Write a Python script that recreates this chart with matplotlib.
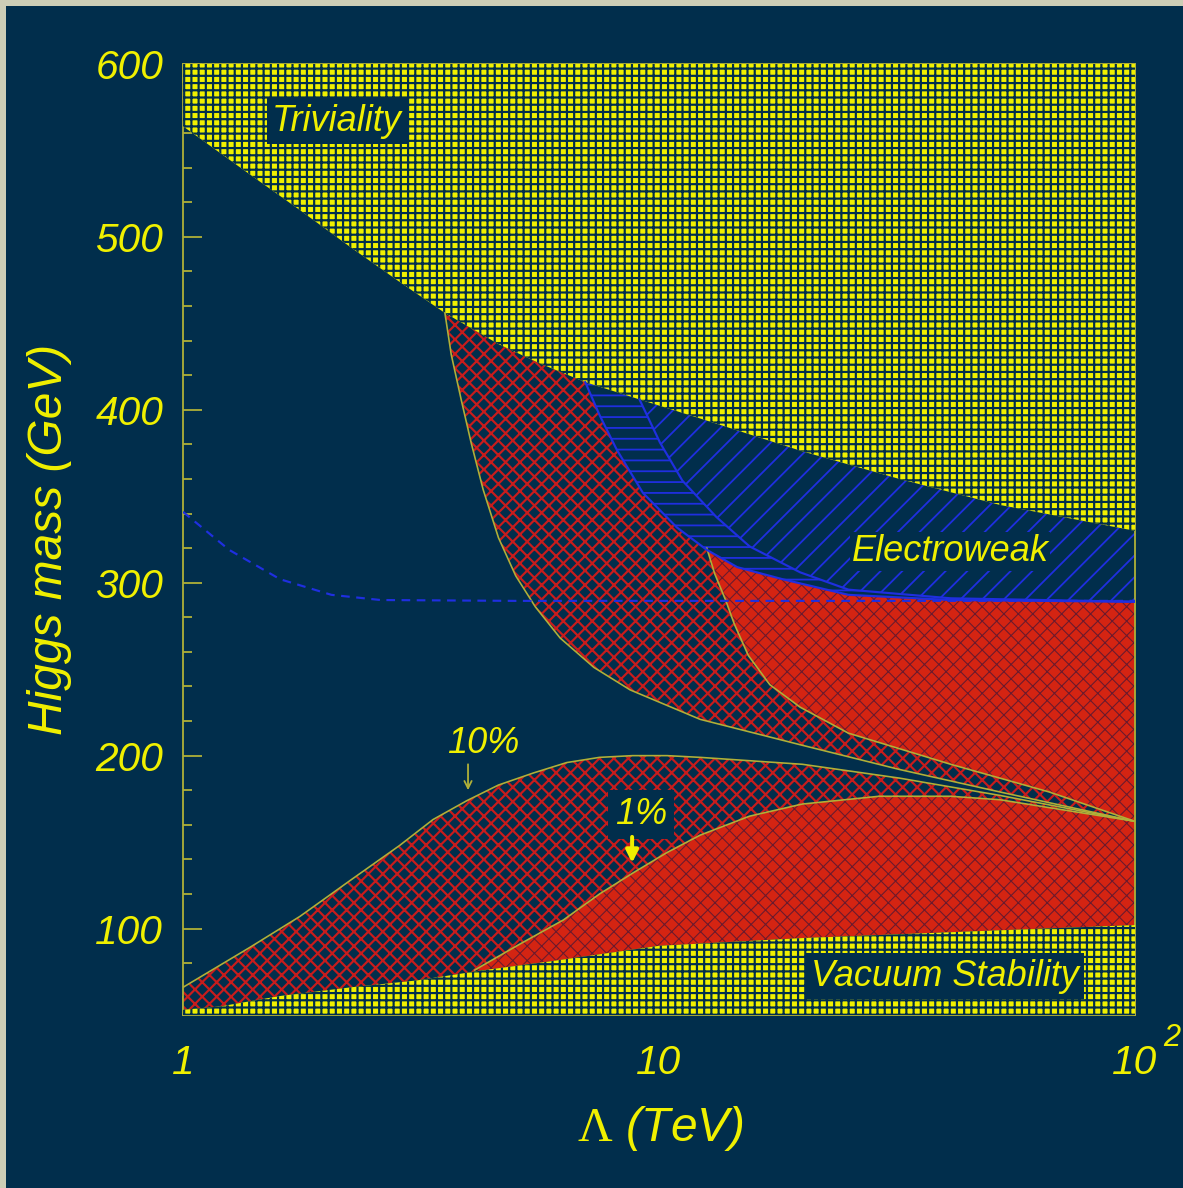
import matplotlib
matplotlib.use('Agg')
import matplotlib.pyplot as plt
from matplotlib.patches import Rectangle
from matplotlib.ticker import MultipleLocator, NullFormatter

# cut-off scale (TeV) and Higgs mass (GeV) along each bound
lam_triv = [1, 1.4, 1.75, 2.25, 2.85, 3.55, 4.6, 5.6, 7.0, 9.1, 12.2, 20, 32, 52, 100]
m_triv = [564, 535, 516, 494, 474, 456, 438, 427, 416, 406, 395, 376, 360, 345, 330]

lam_vac = [1, 1.2, 1.6, 2.25, 3.1, 4.3, 5.9, 10, 20, 52, 100]
m_vac = [53, 55, 61, 66, 70, 76, 81, 90, 94.5, 99, 102]

# fine-tuning contours, lower branch
lam_10 = [1, 1.38, 1.76, 2.25, 2.85, 3.35, 3.95, 4.6, 5.45, 6.4, 7.5, 8.8, 10.4, 12.2, 20, 32, 52, 100]
m_10 = [66, 89, 107, 128, 148, 163, 174, 183, 190, 196, 199, 200, 200, 199, 195, 187, 177, 162]

lam_1 = [4.1, 5.1, 6.3, 7.5, 8.8, 10.4, 12.2, 15.5, 20, 29, 41, 52, 100]
m_1 = [76, 91, 105, 120, 132, 144, 154, 165, 172, 176.5, 176.5, 174.5, 162]

# fine-tuning contours, upper branch
lam_u10 = [3.55, 3.66, 3.84, 4.03, 4.27, 4.6, 5.0, 5.5, 6.2, 7.3, 8.7, 12.2, 20, 32, 52, 100]
m_u10 = [456, 432, 406, 381, 354, 326, 304, 286, 268, 251, 238, 221, 206, 192, 179, 162]

lam_u1 = [12.6, 13.1, 13.8, 14.4, 15.4, 17.1, 19.8, 25, 41, 66, 100]
m_u1 = [320, 305, 290, 276, 258, 241, 228, 213, 195, 179, 162]

# electroweak precision bounds
lam_ewo = [7.0, 7.5, 8.15, 9.25, 10.9, 12.6, 14.6, 18.2, 25, 41, 100]
m_ewo = [416, 397, 377, 352, 332, 319, 309, 302, 293, 290, 289]

lam_ewi = [9.1, 10.05, 11.2, 13.2, 15.5, 19.8, 25, 41, 100]
m_ewi = [406, 381, 359, 338, 321, 306, 296, 291, 289]

lam_dash = [1, 1.25, 1.6, 2.05, 2.6, 5, 100]
m_dash = [341, 319, 302, 293, 290, 289.5, 289.5]

yticks = [100, 200, 300, 400, 500, 600]
xticks = [1, 10, 100]
xticklabels = ['1', '10', '10']

NAVY = '#012e4c'
YELLOW = '#f0f000'
OLIVE = '#b0b038'
RED_LINE = '#c81c1c'
RED_FACE = '#d42412'
RED_DOTS = '#6a1a2e'
BLUE = '#1f2fe0'

plt.rcParams['font.family'] = 'Liberation Sans'
plt.rcParams['font.style'] = 'italic'
plt.rcParams['mathtext.fontset'] = 'custom'
plt.rcParams['mathtext.rm'] = 'Liberation Serif:style=normal'

fig = plt.figure(figsize=(1183 / 130, 1188 / 130), dpi=130, facecolor='#cdcdb6')
fig.patches.append(Rectangle((6 / 1183, 0), 1, 1 - 6 / 1188, transform=fig.transFigure,
                             fc=NAVY, ec='none', zorder=-10))
ax = fig.add_axes([183 / 1183, 1 - 1015 / 1188, 952 / 1183, 951 / 1188])
ax.set_facecolor(NAVY)
ax.set_xscale('log')
ax.set_xlim(1, 100)
ax.set_ylim(50, 600)
ax.set_axisbelow(True)


def region(xs, ys, fc, hatch, hc, hlw, z):
    plt.rcParams['hatch.linewidth'] = hlw
    p = ax.fill(xs, ys, facecolor=fc, edgecolor=hc, hatch=hatch, linewidth=0, zorder=z)[0]
    return p


def part(lams, ms, lo, hi):
    keep = [(l, m) for l, m in zip(lams, ms) if lo < l < hi]
    return [k[0] for k in keep], [k[1] for k in keep]


# lower 10% band: vacuum bound up to the 10% contour
region(lam_10 + lam_vac[::-1], m_10 + m_vac[::-1], NAVY, 'xxx', RED_LINE, 1.2, 1)

# lower 1% band
vx, vy = part(lam_vac, m_vac, lam_1[0], 1000)
region(lam_1 + vx[::-1], m_1 + vy[::-1], RED_FACE, 'xxx', RED_DOTS, 0.6, 2)

# upper 10% band: below triviality / electroweak edge
tx, ty = part(lam_triv, m_triv, lam_u10[0], lam_ewo[0])
region(lam_u10 + lam_ewo[::-1] + tx[::-1], m_u10 + m_ewo[::-1] + ty[::-1],
       NAVY, 'xxx', RED_LINE, 1.2, 1)

# upper 1% band
ex, ey = part(lam_ewo, m_ewo, lam_u1[0], 1000)
region(lam_u1 + ex[::-1], m_u1 + ey[::-1], RED_FACE, 'xxx', RED_DOTS, 0.6, 2)

# electroweak bands
region(lam_ewo + lam_ewi[::-1], m_ewo + m_ewi[::-1], NAVY, '--', BLUE, 1.0, 2)
tx, ty = part(lam_triv, m_triv, lam_ewi[0], 1000)
region(lam_ewi + tx[::-1], m_ewi + ty[::-1], NAVY, '//', BLUE, 1.0, 2)

# triviality and vacuum stability exclusions
region(lam_triv + [100, 1], m_triv + [600, 600], YELLOW, '+++', NAVY, 1.2, 3)
region(lam_vac + [100, 1], m_vac + [50, 50], YELLOW, '+++', NAVY, 1.2, 3)

for xs, ys in [(lam_10, m_10), (lam_1, m_1), (lam_u10, m_u10), (lam_u1, m_u1)]:
    ax.plot(xs, ys, color=OLIVE, lw=0.9, zorder=4)
ax.plot(lam_ewo, m_ewo, color=BLUE, lw=1.2, zorder=4)
ax.plot(lam_ewi, m_ewi, color=BLUE, lw=1.2, zorder=4)
ax.plot(lam_dash, m_dash, color=BLUE, lw=1.2, dashes=(4, 3), zorder=5)

box = dict(boxstyle='square,pad=0.15', fc=NAVY, ec='none')
ax.text(2.107, 567, 'Triviality', color=YELLOW, fontsize=20, ha='center', va='center',
        bbox=box, zorder=6)
ax.text(40.9, 318, 'Electroweak', color=YELLOW, fontsize=20, ha='center', va='center',
        bbox=dict(boxstyle='square,pad=0.05', fc=NAVY, ec='none'), zorder=6)
ax.text(39.9, 72.5, 'Vacuum Stability', color=YELLOW, fontsize=20, ha='center', va='center',
        bbox=box, zorder=6)
ax.text(4.27, 207, '10%', color=YELLOW, fontsize=20, ha='center', va='center', zorder=6)
ax.text(9.17, 166, '1%', color=YELLOW, fontsize=20, ha='center', va='center',
        bbox=dict(boxstyle='square,pad=0.2', fc=NAVY, ec='none'), zorder=6)
ax.annotate('', xy=(3.97, 180), xytext=(3.97, 195), zorder=6,
            arrowprops=dict(arrowstyle='->', color=OLIVE, lw=1.0, shrinkA=0, shrinkB=0))
ax.annotate('', xy=(8.78, 138), xytext=(8.78, 153), zorder=6,
            arrowprops=dict(arrowstyle='-|>', color=YELLOW, lw=2.2, mutation_scale=14,
                            shrinkA=0, shrinkB=0))

ax.set_yticks(yticks)
ax.yaxis.set_minor_locator(MultipleLocator(20))
ax.set_xticks(xticks, labels=xticklabels)
ax.xaxis.set_minor_formatter(NullFormatter())
ax.tick_params(axis='both', which='both', direction='in', colors=OLIVE, width=1.0,
               labelcolor=YELLOW, labelsize=22.5, left=True, right=True, top=True)
ax.tick_params(axis='both', which='major', length=10.5)
ax.tick_params(axis='both', which='minor', length=5)
ax.tick_params(axis='y', pad=11)
ax.tick_params(axis='x', pad=16)
for s in ax.spines.values():
    s.set_color(OLIVE)
    s.set_linewidth(1.0)
# exponent of the 10^2 tick label
ax.text(1.039, -0.024, '2', transform=ax.transAxes, color=YELLOW, fontsize=17,
        ha='center', va='center')

ax.text(-0.14, 0.5, 'Higgs mass (GeV)', transform=ax.transAxes, rotation=90,
        color=YELLOW, fontsize=26.5, ha='center', va='center')
ax.text(0.501, -0.119, r'$\mathrm{\Lambda}$ (TeV)', transform=ax.transAxes,
        color=YELLOW, fontsize=26.5, ha='center', va='center')

fig.savefig('out.png', dpi=130, facecolor=fig.get_facecolor())
